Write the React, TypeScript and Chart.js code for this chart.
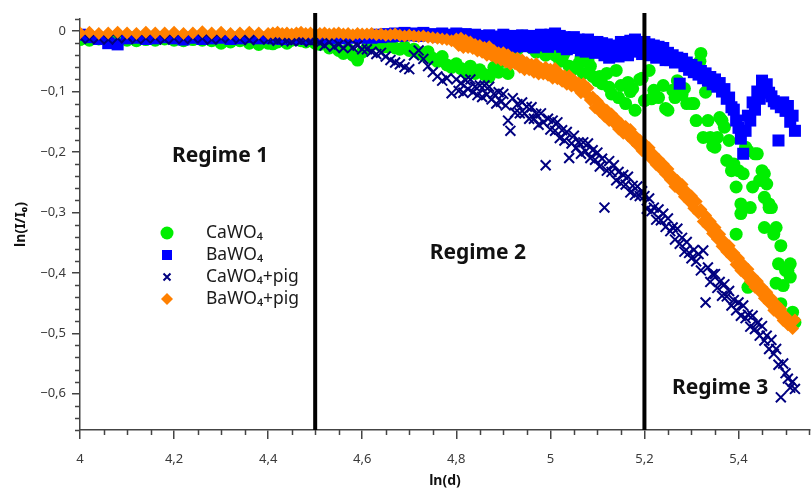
import React, { useEffect, useRef } from 'react';
import { Chart, registerables } from 'chart.js';

Chart.register(...registerables);

// ---------- data ----------
// shared ln(d) grid for BaWO4, CaWO4+pig, BaWO4+pig
const lnD = [
  4.00, 4.02, 4.04, 4.06, 4.08, 4.10, 4.12, 4.14, 4.16, 4.18, 4.20, 4.22, 4.24, 4.26, 4.28, 4.30, 4.32, 4.34, 4.36, 4.38, 4.40,
  4.41, 4.42, 4.43, 4.44, 4.45, 4.46, 4.47, 4.48, 4.49, 4.50,
  4.51, 4.52, 4.53, 4.54, 4.55, 4.56, 4.57, 4.58, 4.59, 4.60,
  4.61, 4.62, 4.63, 4.64, 4.65, 4.66, 4.67, 4.68, 4.69, 4.70,
  4.71, 4.72, 4.73, 4.74, 4.75, 4.76, 4.77, 4.78, 4.79,
  4.800, 4.805, 4.810, 4.815, 4.820, 4.825, 4.830, 4.835, 4.840, 4.845,
  4.850, 4.855, 4.860, 4.865, 4.870, 4.875, 4.880, 4.885, 4.890, 4.895,
  4.900, 4.905, 4.910, 4.915, 4.920, 4.925, 4.930, 4.935, 4.940, 4.945,
  4.950, 4.955, 4.960, 4.965, 4.970, 4.975, 4.980, 4.985, 4.990, 4.995,
  5.000, 5.005, 5.010, 5.015, 5.020, 5.025, 5.030, 5.035, 5.040, 5.045,
  5.050, 5.055, 5.060, 5.065, 5.070, 5.075, 5.080, 5.085, 5.090, 5.095,
  5.100, 5.105, 5.110, 5.115, 5.120, 5.125, 5.130, 5.135, 5.140, 5.145,
  5.150, 5.155, 5.160, 5.165, 5.170, 5.175, 5.180, 5.185, 5.190, 5.195,
  5.200, 5.205, 5.210, 5.215, 5.220, 5.225, 5.230, 5.235, 5.240, 5.245,
  5.250, 5.255, 5.260, 5.265, 5.270, 5.275, 5.280, 5.285, 5.290, 5.295,
  5.300, 5.305, 5.310, 5.315, 5.320, 5.325, 5.330, 5.335, 5.340, 5.345,
  5.350, 5.355, 5.360, 5.365, 5.370, 5.375, 5.380, 5.385, 5.390, 5.395,
  5.400, 5.405, 5.410, 5.415, 5.420, 5.425, 5.430, 5.435, 5.440, 5.445,
  5.450, 5.455, 5.460, 5.465, 5.470, 5.475, 5.480, 5.485, 5.490, 5.495,
  5.500, 5.505, 5.510, 5.515, 5.520,
];

const baWO4 = [
  -0.006, -0.010, -0.013, -0.020, -0.022, -0.012, -0.011, -0.013, -0.012, -0.010, -0.012, -0.014, -0.011, -0.013, -0.012, -0.011, -0.013, -0.012, -0.010, -0.012, -0.011,
  -0.012, -0.011, -0.013, -0.012, -0.010, -0.012, -0.011, -0.013, -0.012, -0.011,
  -0.011, -0.010, -0.012, -0.011, -0.010, -0.012, -0.011, -0.010, -0.009, -0.011,
  -0.008, -0.011, -0.006, -0.010, -0.005, -0.009, -0.004, -0.008, -0.003, -0.007,
  -0.004, -0.008, -0.003, -0.007, -0.005, -0.009, -0.004, -0.008, -0.006,
  -0.004, -0.014, -0.006, -0.017, -0.005, -0.015, -0.008, -0.018, -0.006, -0.016,
  -0.008, -0.020, -0.010, -0.022, -0.007, -0.019, -0.011, -0.024, -0.009, -0.021,
  -0.006, -0.018, -0.010, -0.024, -0.008, -0.026, -0.012, -0.022, -0.007, -0.025,
  -0.010, -0.024, -0.008, -0.027, -0.011, -0.022, -0.006, -0.024, -0.009, -0.026,
  -0.006, -0.022, -0.004, -0.020, -0.008, -0.026, -0.010, -0.030, -0.012, -0.028,
  -0.010, -0.026, -0.014, -0.032, -0.016, -0.034, -0.014, -0.030, -0.018, -0.036,
  -0.018, -0.034, -0.020, -0.040, -0.022, -0.044, -0.024, -0.038, -0.026, -0.042,
  -0.018, -0.036, -0.022, -0.040, -0.016, -0.034, -0.014, -0.032, -0.020, -0.038,
  -0.018, -0.034, -0.022, -0.040, -0.024, -0.044, -0.026, -0.042, -0.028, -0.048,
  -0.036, -0.048, -0.040, -0.052, -0.044, -0.087, -0.046, -0.058, -0.052, -0.064,
  -0.056, -0.068, -0.060, -0.072, -0.066, -0.078, -0.070, -0.082, -0.076, -0.088,
  -0.080, -0.092, -0.086, -0.100, -0.096, -0.112, -0.110, -0.126, -0.130, -0.148,
  -0.160, -0.178, -0.203, -0.165, -0.140, -0.148, -0.118, -0.130, -0.100, -0.112,
  -0.082, -0.094, -0.088, -0.102, -0.108, -0.116, -0.120, -0.181, -0.126, -0.118,
  -0.132, -0.124, -0.150, -0.140, -0.165,
];

const caWO4Pig = [
  -0.011, -0.013, -0.012, -0.014, -0.012, -0.010, -0.013, -0.012, -0.011, -0.014, -0.012, -0.013, -0.011, -0.012, -0.014, -0.012, -0.010, -0.013, -0.015, -0.012, -0.014,
  -0.013, -0.016, -0.012, -0.015, -0.017, -0.013, -0.016, -0.014, -0.018, -0.015,
  -0.020, -0.024, -0.018, -0.026, -0.022, -0.028, -0.021, -0.027, -0.024, -0.030,
  -0.030, -0.034, -0.038, -0.036, -0.042, -0.048, -0.052, -0.055, -0.060, -0.063,
  -0.040, -0.032, -0.046, -0.058, -0.068, -0.075, -0.082, -0.078, -0.103,
  -0.080, -0.099, -0.086, -0.102, -0.081, -0.096, -0.080, -0.101, -0.092, -0.106,
  -0.090, -0.109, -0.090, -0.105, -0.092, -0.113, -0.104, -0.120, -0.101, -0.117,
  -0.104, -0.123, -0.148, -0.165, -0.111, -0.135, -0.121, -0.136, -0.118, -0.136,
  -0.125, -0.145, -0.126, -0.145, -0.137, -0.155, -0.136, -0.151, -0.222, -0.145,
  -0.163, -0.148, -0.165, -0.151, -0.177, -0.164, -0.181, -0.167, -0.210, -0.186,
  -0.173, -0.193, -0.184, -0.203, -0.184, -0.199, -0.186, -0.210, -0.197, -0.213,
  -0.201, -0.224, -0.211, -0.292, -0.231, -0.215, -0.233, -0.222, -0.247, -0.233,
  -0.252, -0.238, -0.254, -0.241, -0.267, -0.256, -0.271, -0.257, -0.273, -0.265,
  -0.273, -0.294, -0.277, -0.298, -0.292, -0.312, -0.295, -0.313, -0.302, -0.324,
  -0.310, -0.331, -0.325, -0.345, -0.327, -0.352, -0.342, -0.365, -0.349, -0.367,
  -0.376, -0.362, -0.381, -0.369, -0.396, -0.363, -0.449, -0.391, -0.415, -0.402,
  -0.402, -0.425, -0.415, -0.438, -0.419, -0.439, -0.430, -0.454, -0.445, -0.462,
  -0.449, -0.471, -0.454, -0.475, -0.469, -0.489, -0.471, -0.493, -0.483, -0.504,
  -0.488, -0.512, -0.504, -0.526, -0.511, -0.534, -0.526, -0.552, -0.606, -0.550,
  -0.566, -0.575, -0.590, -0.580, -0.592,
];

const baWO4Pig = [
  -0.003, -0.002, -0.004, -0.003, -0.002, -0.003, -0.004, -0.002, -0.003, -0.003, -0.002, -0.004, -0.003, -0.001, -0.003, -0.002, -0.004, -0.003, -0.002, -0.003, -0.004,
  -0.003, -0.002, -0.004, -0.003, -0.005, -0.003, -0.002, -0.004, -0.003, -0.004,
  -0.004, -0.003, -0.005, -0.004, -0.003, -0.005, -0.004, -0.006, -0.004, -0.005,
  -0.005, -0.004, -0.006, -0.005, -0.007, -0.006, -0.005, -0.007, -0.008, -0.007,
  -0.008, -0.009, -0.008, -0.010, -0.011, -0.012, -0.013, -0.014, -0.016,
  -0.013, -0.024, -0.012, -0.027, -0.015, -0.027, -0.018, -0.029, -0.022, -0.033,
  -0.024, -0.035, -0.027, -0.040, -0.026, -0.041, -0.032, -0.045, -0.036, -0.048,
  -0.036, -0.051, -0.039, -0.055, -0.044, -0.054, -0.045, -0.060, -0.048, -0.064,
  -0.052, -0.064, -0.055, -0.068, -0.054, -0.071, -0.061, -0.071, -0.060, -0.073,
  -0.063, -0.078, -0.062, -0.079, -0.070, -0.083, -0.074, -0.088, -0.074, -0.091,
  -0.081, -0.093, -0.086, -0.102, -0.087, -0.103, -0.094, -0.114, -0.109, -0.127,
  -0.116, -0.133, -0.125, -0.141, -0.131, -0.148, -0.137, -0.152, -0.145, -0.162,
  -0.153, -0.169, -0.158, -0.173, -0.163, -0.181, -0.173, -0.189, -0.180, -0.198,
  -0.186, -0.202, -0.193, -0.212, -0.204, -0.221, -0.212, -0.228, -0.220, -0.237,
  -0.228, -0.246, -0.240, -0.257, -0.247, -0.263, -0.254, -0.274, -0.266, -0.282,
  -0.273, -0.293, -0.282, -0.301, -0.295, -0.315, -0.305, -0.323, -0.315, -0.335,
  -0.325, -0.344, -0.336, -0.356, -0.348, -0.365, -0.355, -0.373, -0.367, -0.386,
  -0.376, -0.396, -0.386, -0.403, -0.394, -0.414, -0.406, -0.424, -0.414, -0.431,
  -0.424, -0.442, -0.432, -0.450, -0.442, -0.462, -0.452, -0.468, -0.460, -0.479,
  -0.472, -0.486, -0.482, -0.492, -0.478,
];

// CaWO4 has its own ln(d) list
const caX = [
  4.00, 4.02, 4.04, 4.06, 4.08, 4.10, 4.12, 4.14, 4.16, 4.18, 4.20, 4.22, 4.24, 4.26, 4.28, 4.30, 4.32, 4.34, 4.36, 4.38, 4.40,
  4.41, 4.42, 4.43, 4.44, 4.45, 4.46, 4.47, 4.48, 4.49, 4.50,
  4.51, 4.52, 4.53, 4.54, 4.55, 4.56, 4.57, 4.58, 4.59, 4.60,
  4.61, 4.62, 4.63, 4.64, 4.65, 4.66, 4.67, 4.68, 4.69, 4.70,
  4.71, 4.72, 4.73, 4.74, 4.75, 4.76, 4.77, 4.78, 4.79, 4.80,
  4.81, 4.82, 4.83, 4.84, 4.85, 4.86, 4.87, 4.88, 4.89, 4.90,
  4.91, 4.92, 4.93, 4.94, 4.95, 4.96, 4.97, 4.98, 4.99, 5.00,
  5.01, 5.02, 5.03, 5.04, 5.05, 5.06, 5.07, 5.08, 5.09, 5.10,
  5.11, 5.12, 5.13, 5.14, 5.15, 5.16, 5.17, 5.18, 5.19, 5.20,
  5.21, 5.22, 5.23, 5.24, 5.25, 5.26, 5.27, 5.28, 5.29, 5.30,
  5.31, 5.32, 5.33, 5.34, 5.35, 5.36, 5.37, 5.38, 5.39, 5.40,
  5.41, 5.42, 5.43, 5.44, 5.45, 5.46, 5.47, 5.48, 5.49, 5.50,
  5.51, 5.52,
  4.985, 5.005, 5.025, 5.045, 5.065, 5.085, 5.105, 5.125, 5.145, 5.165,
  5.175, 5.195, 5.215, 5.245, 5.265, 5.285, 5.305, 5.318, 5.325, 5.335,
  5.345, 5.355, 5.365, 5.375, 5.385, 5.395, 5.395, 5.405, 5.405, 5.415,
  5.42, 5.425, 5.435, 5.445, 5.455, 5.455, 5.455, 5.465, 5.465, 5.475,
  5.48, 5.485, 5.49, 5.495, 5.505, 5.51, 5.515,
];
const caY = [
  -0.014, -0.015, -0.013, -0.016, -0.014, -0.015, -0.016, -0.014, -0.015, -0.013, -0.015, -0.016, -0.014, -0.015, -0.016, -0.020, -0.018, -0.016, -0.020, -0.022, -0.020,
  -0.021, -0.018, -0.016, -0.020, -0.015, -0.014, -0.016, -0.018, -0.015, -0.020,
  -0.022, -0.018, -0.028, -0.025, -0.032, -0.037, -0.030, -0.040, -0.048, -0.035,
  -0.028, -0.022, -0.020, -0.024, -0.026, -0.022, -0.028, -0.030, -0.026, -0.032,
  -0.030, -0.036, -0.040, -0.034, -0.045, -0.050, -0.042, -0.056, -0.060, -0.054,
  -0.062, -0.068, -0.058, -0.070, -0.064, -0.072, -0.076, -0.060, -0.068, -0.050,
  -0.070, -0.042, -0.030, -0.008, -0.020, -0.028, -0.035, -0.024, -0.040, -0.032,
  -0.040, -0.050, -0.036, -0.058, -0.062, -0.054, -0.070, -0.048, -0.075, -0.082,
  -0.087, -0.070, -0.104, -0.065, -0.090, -0.120, -0.100, -0.131, -0.080, -0.115,
  -0.065, -0.098, -0.110, -0.090, -0.131, -0.098, -0.082, -0.105, -0.120, -0.120,
  -0.148, -0.037, -0.101, -0.176, -0.192, -0.143, -0.159, -0.181, -0.220, -0.231,
  -0.236, -0.198, -0.258, -0.203, -0.231, -0.253, -0.292, -0.325, -0.355, -0.396,
  -0.407, -0.482,
  -0.010, -0.020, -0.045, -0.065, -0.045, -0.058, -0.075, -0.093, -0.110, -0.085,
  -0.095, -0.078, -0.112, -0.128, -0.110, -0.095, -0.120, -0.050, -0.176, -0.148,
  -0.190, -0.176, -0.148, -0.214, -0.231, -0.258, -0.336, -0.302, -0.286, -0.192,
  -0.424, -0.292, -0.203, -0.247, -0.236, -0.275, -0.325, -0.286, -0.292, -0.336,
  -0.417, -0.385, -0.451, -0.421, -0.396, -0.385, -0.465,
];

const seriesNames = ['CaWO₄', 'BaWO₄', 'CaWO₄+pig', 'BaWO₄+pig'];

const regimeBounds = [4.5, 5.2];
const regimeTexts = ['Regime 1', 'Regime 2', 'Regime 3'];
const regimeAtX = [4.298, 4.846, 5.361];
const regimeAtY = [-0.206, -0.368, -0.59];

const xTickValues = [4, 4.2, 4.4, 4.6, 4.8, 5, 5.2, 5.4];
const xTickLabels = ['4', '4,2', '4,4', '4,6', '4,8', '5', '5,2', '5,4'];
const yTickValues = [0, -0.1, -0.2, -0.3, -0.4, -0.5, -0.6];
const yTickLabels = ['0', '−0,1', '−0,2', '−0,3', '−0,4', '−0,5', '−0,6'];

// ---------- styles ----------
const FONT = '"Noto Sans", "DejaVu Sans", sans-serif';
const AXIS = '#444444';
const GREEN = '#00ee00';
const BLUE = '#0000ff';
const NAVY = '#000080';
const ORANGE = '#ff8000';

const pts = (xs: number[], ys: number[]) => xs.map((x, i) => ({ x, y: ys[i] }));

function drawMarker(ctx: CanvasRenderingContext2D, kind: string, x: number, y: number, color: string) {
  ctx.save();
  ctx.fillStyle = color;
  ctx.strokeStyle = color;
  ctx.beginPath();
  if (kind === 'circle') {
    ctx.arc(x, y, 6.5, 0, Math.PI * 2);
    ctx.fill();
  } else if (kind === 'rect') {
    ctx.rect(x - 5, y - 5, 10, 10);
    ctx.fill();
  } else if (kind === 'cross') {
    ctx.lineWidth = 2;
    ctx.moveTo(x - 3.5, y - 3.5);
    ctx.lineTo(x + 3.5, y + 3.5);
    ctx.moveTo(x + 3.5, y - 3.5);
    ctx.lineTo(x - 3.5, y + 3.5);
    ctx.stroke();
  } else {
    ctx.moveTo(x, y - 6);
    ctx.lineTo(x + 6, y);
    ctx.lineTo(x, y + 6);
    ctx.lineTo(x - 6, y);
    ctx.closePath();
    ctx.fill();
  }
  ctx.restore();
}

const legendPlugin = {
  id: 'insideLegend',
  afterDraw(chart: any) {
    const ctx = chart.ctx as CanvasRenderingContext2D;
    const { left, top } = chart.chartArea;
    const kinds = ['circle', 'rect', 'cross', 'diamond'];
    const colors = [GREEN, BLUE, NAVY, ORANGE];
    const mx = left + 87;
    const tx = left + 126;
    const y0 = top + 214;
    ctx.save();
    ctx.font = `17.5px ${FONT}`;
    ctx.fillStyle = '#1a1a1a';
    ctx.textBaseline = 'middle';
    ctx.textAlign = 'left';
    seriesNames.forEach((name, i) => {
      const y = y0 + i * 22;
      drawMarker(ctx, kinds[i], mx, y, colors[i]);
      ctx.fillText(name, tx, y);
    });
    ctx.restore();
  },
};

const regimePlugin = {
  id: 'regimeText',
  afterDraw(chart: any) {
    const ctx = chart.ctx as CanvasRenderingContext2D;
    const xs = chart.scales.x;
    const ys = chart.scales.y;
    ctx.save();
    ctx.font = `bold 21px ${FONT}`;
    ctx.fillStyle = '#111111';
    ctx.textAlign = 'center';
    ctx.textBaseline = 'middle';
    regimeTexts.forEach((t, i) => {
      ctx.fillText(t, xs.getPixelForValue(regimeAtX[i]), ys.getPixelForValue(regimeAtY[i]));
    });
    ctx.restore();
  },
};

const minorTickPlugin = {
  id: 'minorTicks',
  afterDraw(chart: any) {
    const ctx = chart.ctx as CanvasRenderingContext2D;
    const xs = chart.scales.x;
    const ys = chart.scales.y;
    const { left, bottom } = chart.chartArea;
    ctx.save();
    ctx.strokeStyle = AXIS;
    ctx.lineWidth = 1.5;
    ctx.beginPath();
    const xStep = 0.05;
    for (let k = Math.ceil(xs.min / xStep - 1e-6); k * xStep <= xs.max + 1e-9; k++) {
      const v = k * xStep;
      if (xTickValues.some((m) => Math.abs(m - v) < 1e-6)) continue;
      const p = Math.round(xs.getPixelForValue(v)) + 0.5;
      ctx.moveTo(p, bottom);
      ctx.lineTo(p, bottom + 5);
    }
    const yStep = 0.02;
    for (let k = Math.ceil(ys.min / yStep - 1e-6); k * yStep <= ys.max + 1e-9; k++) {
      const v = k * yStep;
      if (yTickValues.some((m) => Math.abs(m - v) < 1e-6)) continue;
      const p = Math.round(ys.getPixelForValue(v)) + 0.5;
      ctx.moveTo(left - 5, p);
      ctx.lineTo(left, p);
    }
    ctx.stroke();
    ctx.restore();
  },
};

export default function App() {
  const ref = useRef<HTMLCanvasElement>(null);

  useEffect(() => {
    if (!ref.current) return;
    const lineSets = regimeBounds.map((b) => ({
      label: 'bound',
      data: [
        { x: b, y: 0.03 },
        { x: b, y: -0.66 },
      ],
      showLine: true,
      borderColor: '#000000',
      borderWidth: 4,
      pointRadius: 0,
      clip: false as any,
      order: 0,
    }));
    const chart = new Chart(ref.current, {
      type: 'scatter',
      data: {
        datasets: [
          {
            label: seriesNames[0],
            data: pts(caX, caY),
            pointStyle: 'circle',
            pointRadius: 6.5,
            pointBackgroundColor: GREEN,
            pointBorderColor: GREEN,
            pointBorderWidth: 0,
            order: 4,
          },
          {
            label: seriesNames[1],
            data: pts(lnD, baWO4),
            pointStyle: 'rect',
            pointRadius: 8.5,
            pointBackgroundColor: BLUE,
            pointBorderColor: BLUE,
            pointBorderWidth: 0,
            order: 3,
          },
          {
            label: seriesNames[2],
            data: pts(lnD, caWO4Pig),
            pointStyle: 'crossRot',
            pointRadius: 7,
            pointBackgroundColor: NAVY,
            pointBorderColor: NAVY,
            pointBorderWidth: 2,
            order: 2,
          },
          {
            label: seriesNames[3],
            data: pts(lnD, baWO4Pig),
            pointStyle: 'rectRot',
            pointRadius: 6.5,
            pointBackgroundColor: ORANGE,
            pointBorderColor: ORANGE,
            pointBorderWidth: 0,
            order: 1,
          },
          ...lineSets,
        ] as any,
      },
      options: {
        animation: false,
        responsive: true,
        maintainAspectRatio: false,
        events: [],
        layout: { padding: { top: 19, right: 2, left: 0, bottom: 0 }, autoPadding: false },
        plugins: { legend: { display: false }, tooltip: { enabled: false }, title: { display: false } },
        scales: {
          x: {
            type: 'linear',
            min: 4,
            max: 5.552,
            afterFit: (s: any) => {
              s.height = 59;
            },
            afterBuildTicks: (s: any) => {
              s.ticks = xTickValues.map((v) => ({ value: v }));
            },
            ticks: {
              callback: (_v: any, i: number) => xTickLabels[i],
              font: { family: FONT, size: 13 },
              color: '#3a3a3a',
              padding: 12,
              maxRotation: 0,
              autoSkip: false,
            },
            grid: { drawOnChartArea: false, drawTicks: true, tickLength: 9, color: AXIS, lineWidth: 1.5 },
            border: { display: true, color: AXIS, width: 1.5 },
            title: {
              display: true,
              text: 'ln(d)',
              font: { family: FONT, size: 14, weight: 'bold' },
              color: '#111111',
              padding: { top: 0, bottom: 0 },
            },
          },
          y: {
            type: 'linear',
            min: -0.66,
            max: 0.02,
            afterFit: (s: any) => {
              s.width = 80;
            },
            afterBuildTicks: (s: any) => {
              s.ticks = yTickValues.map((v) => ({ value: v }));
            },
            ticks: {
              callback: (_v: any, i: number) => yTickLabels[i],
              font: { family: FONT, size: 13 },
              color: '#3a3a3a',
              padding: 6,
              autoSkip: false,
            },
            grid: { drawOnChartArea: false, drawTicks: true, tickLength: 8, color: AXIS, lineWidth: 1.5 },
            border: { display: true, color: AXIS, width: 1.5 },
            title: {
              display: true,
              text: 'ln(I/I₀)',
              font: { family: FONT, size: 14, weight: 'bold' },
              color: '#111111',
              padding: { top: 13, bottom: 0 },
            },
          },
        },
      } as any,
      plugins: [minorTickPlugin, legendPlugin, regimePlugin],
    });
    return () => chart.destroy();
  }, []);

  return (
    <div style={{ position: 'absolute', left: 0, top: 0, width: 812, height: 489 }}>
      <canvas ref={ref} />
    </div>
  );
}
